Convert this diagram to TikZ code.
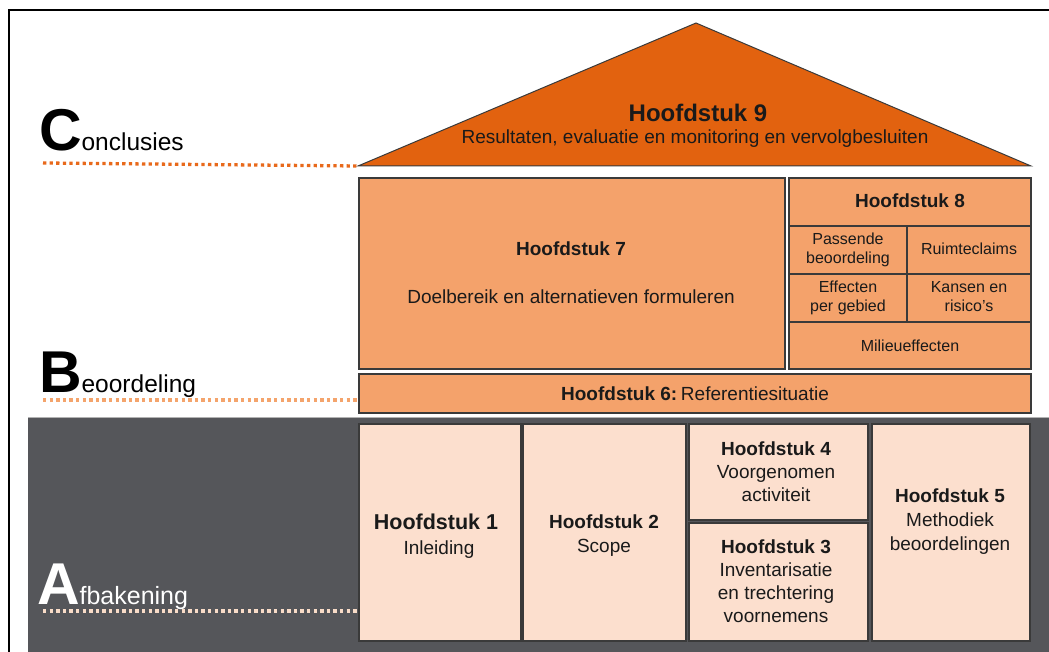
\documentclass[tikz,border=0pt]{standalone}
\usepackage{fontspec}
\setmainfont{Liberation Sans}
\definecolor{roof}{HTML}{E2620F}
\definecolor{mid}{HTML}{F4A26B}
\definecolor{light}{HTML}{FCDFCE}
\definecolor{band}{HTML}{55565A}
\definecolor{edge}{HTML}{3A3A3A}
\definecolor{dotC}{HTML}{E8691B}
\definecolor{dotB}{HTML}{F4A46C}
\definecolor{dotA}{HTML}{F9DCC8}
\definecolor{txt}{HTML}{1A1A1A}
\newcommand\fbsz[1]{\fontsize{#1}{#1}\selectfont\bfseries}
\newcommand\frsz[1]{\fontsize{#1}{#1}\selectfont}
\tikzset{
  box/.style={draw=edge, line width=1.6pt, inner sep=0pt, outer sep=0pt, anchor=north west},
  t/.style={anchor=base, inner sep=0pt, outer sep=0pt, text=txt},
  dotline/.style={line width=3.3pt, dash pattern=on 3.3pt off 3.3pt},
  lbl/.style={anchor=base west, inner sep=0pt, outer sep=0pt}
}
\begin{document}
\begin{tikzpicture}[x=1pt,y=-1pt]
\useasboundingbox (0,0) rectangle (1049,652);
% frame
\draw[line width=2pt, black] (9,665) -- (9,10) -- (1065,10);
% dark band
\fill[band] (28,417) rectangle (1060,665);
\draw[gray!60, line width=0.8pt] (28,417) -- (1060,417);
% roof
\coordinate (rl) at (358,166);
\coordinate (rt) at (696,23);
\coordinate (rr) at (1031,166);
\draw[fill=roof, draw=edge, line width=1pt, line join=miter] (rl) -- (rt) -- (rr) -- cycle;
\node[t] (h9a) at (698,122) {\fbsz{24}Hoofdstuk 9};
\node[t] (h9b) at (695,144) {\frsz{19}Resultaten, evaluatie en monitoring en vervolgbesluiten};
% chapter 7
\node[box, fill=mid, minimum width=426pt, minimum height=191pt] (h7) at (359,178) {};
\node[t] (h7a) at (571,256) {\fbsz{19}Hoofdstuk 7};
\node[t] (h7b) at (571,303) {\frsz{19}Doelbereik en alternatieven formuleren};
% chapter 8
\node[box, fill=mid, minimum width=242pt, minimum height=191pt] (h8) at (789,178) {};
\coordinate (r1l) at (789,226); \coordinate (r1r) at (1031,226);
\coordinate (r2l) at (789,274); \coordinate (r2r) at (1031,274);
\coordinate (r3l) at (789,322); \coordinate (r3r) at (1031,322);
\coordinate (vt) at (907,226); \coordinate (vb) at (907,322);
\draw[edge, line width=1.6pt] (r1l) -- (r1r) (r2l) -- (r2r) (r3l) -- (r3r) (vt) -- (vb);
\node[t] (h8a) at (910,208) {\fbsz{19}Hoofdstuk 8};
\node[t] (h8b) at (848,245) {\frsz{16}Passende};
\node[t] (h8c) at (848,264) {\frsz{16}beoordeling};
\node[t] (h8d) at (969,255) {\frsz{16}Ruimteclaims};
\node[t] (h8e) at (848,293) {\frsz{16}Effecten};
\node[t] (h8f) at (848,312) {\frsz{16}per gebied};
\node[t] (h8g) at (969,293) {\frsz{16}Kansen en};
\node[t] (h8h) at (969,312) {\frsz{16}risico’s};
\node[t] (h8i) at (910,351) {\frsz{16}Milieueffecten};
% chapter 6
\node[box, fill=mid, minimum width=672pt, minimum height=39pt] (h6) at (359,374) {};
\node[t] (h6a) at (695,400) {{\fbsz{19}Hoofdstuk 6:} \frsz{19}Referentiesituatie};
% bottom boxes
\node[box, fill=light, minimum width=162pt, minimum height=217pt] (h1) at (359,424) {};
\node[box, fill=light, minimum width=163pt, minimum height=217pt] (h2) at (523,424) {};
\node[box, fill=light, minimum width=179pt, minimum height=96pt] (h4) at (689,424) {};
\node[box, fill=light, minimum width=179pt, minimum height=118pt] (h3) at (689,523) {};
\node[box, fill=light, minimum width=158pt, minimum height=217pt] (h5) at (872,424) {};
\node[t] (h1a) at (436,529) {\fbsz{21.5}Hoofdstuk 1};
\node[t] (h1b) at (439,554) {\frsz{19}Inleiding};
\node[t] (h2a) at (604,528) {\fbsz{19}Hoofdstuk 2};
\node[t] (h2b) at (604,552) {\frsz{19}Scope};
\node[t] (h4a) at (776,455) {\fbsz{19}Hoofdstuk 4};
\node[t] (h4b) at (776,478) {\frsz{19}Voorgenomen};
\node[t] (h4c) at (776,501) {\frsz{19}activiteit};
\node[t] (h3a) at (776,553) {\fbsz{19}Hoofdstuk 3};
\node[t] (h3b) at (776,576) {\frsz{19}Inventarisatie};
\node[t] (h3c) at (776,599) {\frsz{19}en trechtering};
\node[t] (h3d) at (776,622) {\frsz{19}voornemens};
\node[t] (h5a) at (950,502) {\fbsz{19}Hoofdstuk 5};
\node[t] (h5b) at (950,526) {\frsz{19}Methodiek};
\node[t] (h5c) at (950,550) {\frsz{19}beoordelingen};
% side labels
\node[lbl] (lc) at (39,151) {{\fbsz{59}C}{\frsz{24.5}onclusies}};
\node[lbl] (lb) at (39,392) {{\fbsz{59}B}{\frsz{24.5}eoordeling}};
\node[lbl, text=white] (la) at (37,604) {{\fbsz{59}A}{\frsz{25}fbakening}};
\coordinate (dc) at (43,163);
\coordinate (db) at (43,400);
\coordinate (da) at (43,611);
\draw[dotline, dotC] (dc) -- (rl);
\draw[dotline, dotB] (db) -- (h6.west |- db);
\draw[dotline, dotA] (da) -- (h1.west |- da);
\end{tikzpicture}
\end{document}
